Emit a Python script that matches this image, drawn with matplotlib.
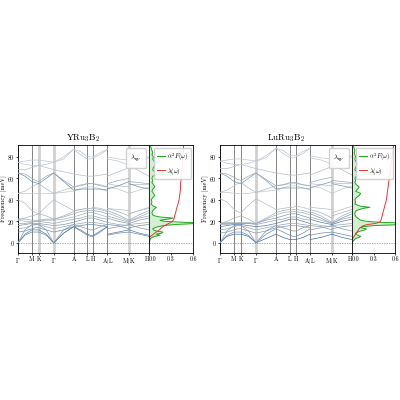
import numpy as np
import matplotlib
matplotlib.use("Agg")
import matplotlib.pyplot as plt
from matplotlib.lines import Line2D
from matplotlib.colors import LinearSegmentedColormap

plt.rcParams['font.family'] = ['cmr10']
plt.rcParams['mathtext.fontset'] = 'cm'
plt.rcParams['axes.unicode_minus'] = False
plt.rcParams['axes.formatter.use_mathtext'] = True

# ---------------- data ----------------
titles = ["YRu$_3$B$_2$", "LuRu$_3$B$_2$"]
node_labels = [r"$\Gamma$", "M", "K", r"$\Gamma$", "A", "L", "H", "A$|$L", "M$|$K", "H"]
node_pos = [0, 14, 21, 36, 56, 70, 76, 90, 112, 132]
# sample positions along path: nodes + midpoints  (Γ-M-K-Γ-A-L-H-A | L-M | K-H)
k_seg1 = [0, 7, 14, 17.5, 21, 28.5, 36, 46, 56, 63, 70, 73, 76, 83, 90]
k_seg2 = [90, 101, 112]
k_seg3 = [112, 122, 132]

bands_Y = [
    [0, 7, 10, 10, 10, 7, 0, 9, 15, 11, 7, 6, 6, 10, 15] + [7, 9, 10] + [10, 8, 6],
    [0, 8, 12, 12, 12, 8, 0, 9, 15, 12, 8, 7, 7, 11, 15] + [8, 10, 12] + [12, 9, 7],
    [0, 12, 17, 17, 17, 12, 0, 12, 17, 15, 13, 12, 12, 15, 17] + [13, 15, 17] + [17, 14, 12],
    [10, 11, 13, 14, 14, 12, 10, 12, 15, 16, 17, 17, 17, 16, 15] + [17, 16, 13] + [14, 16, 17],
    [13, 14, 16, 17, 17, 15, 13, 15, 17, 18, 19, 19, 19, 18, 17] + [19, 17, 16] + [17, 18, 19],
    [16, 17, 18, 18, 18, 17, 16, 17, 19, 21, 23, 23, 23, 21, 19] + [23, 20, 18] + [18, 21, 23],
    [18, 18, 19, 20, 20, 19, 18, 20, 22, 23, 25, 25, 25, 23, 22] + [25, 22, 19] + [20, 23, 25],
    [21, 20, 20, 20, 20, 21, 21, 22, 24, 26, 28, 28, 28, 26, 24] + [28, 24, 20] + [20, 24, 28],
    [22, 22, 21, 21, 21, 22, 22, 24, 27, 29, 30, 30, 30, 29, 27] + [30, 26, 21] + [21, 26, 30],
    [22, 23, 25, 26, 27, 25, 22, 25, 29, 31, 32, 32, 32, 31, 29] + [32, 29, 25] + [27, 30, 32],
    [40, 37, 30, 28, 27, 34, 40, 35, 30, 31, 32, 32, 33, 32, 30] + [32, 31, 30] + [27, 30, 33],
    [46, 46, 46, 46, 46, 46, 46, 47, 48, 50, 52, 52, 52, 50, 48] + [52, 50, 46] + [46, 49, 52],
    [46, 48, 52, 54, 55, 50, 46, 49, 52, 54, 55, 55, 55, 54, 52] + [55, 53, 52] + [55, 55, 55],
    [65, 62, 57, 56, 55, 60, 65, 57, 49, 50, 50, 50, 50, 50, 49] + [50, 53, 57] + [55, 52, 50],
    [65, 64, 60, 58, 57, 62, 65, 58, 52, 53, 55, 55, 55, 53, 52] + [55, 58, 60] + [57, 56, 55],
    [68, 68, 70, 71, 72, 70, 68, 66, 64, 63, 62, 62, 62, 63, 64] + [62, 66, 70] + [72, 67, 62],
    [75, 73, 72, 72, 72, 73, 75, 78, 87, 82, 78, 78, 79, 82, 87] + [78, 76, 72] + [72, 76, 79],
    [75, 76, 77, 77, 77, 76, 75, 80, 87, 85, 80, 80, 80, 84, 87] + [80, 78, 77] + [77, 78, 80],
]
strength_Y = [0.7, 0.8, 0.6, 0.7, 0.5, 0.6, 0.5, 0.4, 0.5, 0.4, 0.3, 0.2, 0.3, 0.7, 0.5, 0.3, 0.2, 0.2]

bands_Lu = [
    [0, 6, 8, 8, 8, 6, 0, 4, 8, 5, 3, 3, 3, 5, 8] + [3, 5, 8] + [8, 5, 3],
    [0, 7, 10, 10, 10, 7, 0, 8, 13, 10, 7, 6, 6, 9, 13] + [7, 9, 10] + [10, 8, 6],
    [0, 11, 16, 16, 16, 11, 0, 11, 16, 14, 12, 11, 11, 14, 16] + [12, 14, 16] + [16, 13, 11],
    [9, 10, 12, 13, 13, 11, 9, 11, 14, 15, 16, 16, 16, 15, 14] + [16, 15, 12] + [13, 15, 16],
    [12, 13, 15, 16, 16, 14, 12, 14, 16, 17, 18, 18, 18, 17, 16] + [18, 16, 15] + [16, 17, 18],
    [15, 16, 17, 17, 17, 16, 15, 16, 18, 20, 22, 22, 22, 20, 18] + [22, 19, 17] + [17, 20, 22],
    [17, 17, 18, 18, 18, 18, 17, 19, 21, 22, 24, 24, 24, 22, 21] + [24, 21, 18] + [18, 22, 24],
    [18, 18, 18, 18, 18, 18, 18, 21, 23, 25, 27, 27, 27, 25, 23] + [27, 23, 18] + [18, 23, 27],
    [18, 19, 19, 19, 19, 19, 18, 22, 26, 28, 29, 29, 29, 28, 26] + [29, 25, 19] + [19, 25, 29],
    [18, 20, 23, 24, 25, 22, 18, 23, 28, 30, 31, 31, 31, 30, 28] + [31, 28, 23] + [25, 28, 31],
    [41, 38, 31, 29, 28, 35, 41, 36, 31, 32, 33, 33, 34, 33, 31] + [33, 32, 31] + [28, 31, 34],
    [47, 47, 46, 46, 46, 46, 47, 48, 49, 51, 53, 53, 53, 51, 49] + [53, 51, 46] + [46, 50, 53],
    [47, 49, 53, 55, 56, 51, 47, 50, 53, 54, 55, 55, 55, 54, 53] + [55, 54, 53] + [56, 55, 55],
    [65, 62, 57, 56, 55, 60, 65, 58, 50, 51, 51, 51, 51, 51, 50] + [51, 54, 57] + [55, 53, 51],
    [65, 64, 61, 59, 58, 62, 65, 59, 53, 54, 56, 56, 56, 54, 53] + [56, 59, 61] + [58, 57, 56],
    [69, 69, 71, 72, 73, 71, 69, 67, 65, 64, 63, 63, 63, 64, 65] + [63, 67, 71] + [73, 68, 63],
    [76, 74, 73, 73, 73, 74, 76, 79, 88, 83, 79, 79, 80, 83, 88] + [79, 77, 73] + [73, 77, 80],
    [76, 77, 78, 78, 78, 77, 76, 81, 88, 86, 81, 81, 81, 85, 88] + [81, 79, 78] + [78, 79, 81],
]
strength_Lu = [0.9, 0.7, 0.6, 0.6, 0.5, 0.8, 0.5, 0.6, 0.4, 0.4, 0.3, 0.2, 0.3, 0.6, 0.5, 0.3, 0.2, 0.2]

a2f_freq = [0, 2, 4, 5, 6, 7, 8, 9, 10, 11, 12, 13, 14, 15, 16, 17, 18, 18.5, 19, 20, 21, 22, 23, 24,
            25, 26, 28, 30, 32, 33, 34, 36, 38, 40, 42, 44, 46, 48, 50, 52, 54, 56, 58, 60, 62, 63,
            64, 65, 66, 67, 68, 70, 72, 74, 75, 76, 78, 80, 82, 84, 86, 88, 90]
a2f_Y = [0, 0.01, 0.02, 0.04, 0.08, 0.15, 0.1, 0.17, 0.19, 0.1, 0.06, 0.05, 0.08, 0.12, 0.2, 0.35,
         0.65, 0.75, 0.5, 0.2, 0.15, 0.25, 0.33, 0.15, 0.08, 0.05, 0.04, 0.05, 0.08, 0.1, 0.06, 0.03,
         0.04, 0.03, 0.05, 0.08, 0.06, 0.04, 0.05, 0.08, 0.06, 0.04, 0.05, 0.04, 0.05, 0.1, 0.3, 0.4,
         0.15, 0.06, 0.05, 0.06, 0.08, 0.1, 0.12, 0.07, 0.05, 0.06, 0.04, 0.05, 0.04, 0.03, 0.02]
a2f_Lu = [0, 0.02, 0.05, 0.1, 0.12, 0.08, 0.06, 0.05, 0.08, 0.12, 0.18, 0.2, 0.12, 0.15, 0.3, 0.7,
          0.8, 0.7, 0.4, 0.2, 0.12, 0.1, 0.08, 0.06, 0.05, 0.04, 0.04, 0.06, 0.15, 0.25, 0.12, 0.04,
          0.05, 0.04, 0.06, 0.1, 0.12, 0.05, 0.08, 0.1, 0.06, 0.04, 0.05, 0.04, 0.06, 0.12, 0.3, 0.35,
          0.12, 0.05, 0.04, 0.05, 0.07, 0.08, 0.06, 0.05, 0.04, 0.05, 0.04, 0.03, 0.04, 0.03, 0.02]

lam_freq_Y = [5, 6, 8, 10, 12, 14, 16, 18, 19, 20, 22, 25, 30, 35, 40, 45, 50, 55, 60, 64, 66, 70,
              75, 80, 85, 90]
lam_Y = [0, 0.02, 0.06, 0.1, 0.14, 0.17, 0.21, 0.27, 0.3, 0.32, 0.34, 0.35, 0.37, 0.39, 0.41, 0.42,
         0.43, 0.43, 0.44, 0.44, 0.45, 0.45, 0.46, 0.46, 0.47, 0.47]
lam_freq_Lu = [3, 5, 8, 10, 12, 14, 16, 17, 18, 19, 20, 25, 30, 35, 40, 45, 50, 55, 60, 65, 70, 75,
               80, 85, 90]
lam_Lu = [0, 0.02, 0.05, 0.07, 0.09, 0.11, 0.16, 0.22, 0.32, 0.38, 0.40, 0.42, 0.44, 0.46, 0.48,
          0.49, 0.5, 0.51, 0.52, 0.53, 0.54, 0.55, 0.56, 0.57, 0.58]

# ---------------- plotting ----------------
fig = plt.figure(figsize=(4, 4), dpi=100)
cmap = LinearSegmentedColormap.from_list("bw", ["#d8dce0", "#9aa8b8", "#2a64a0"])

panels = [
    (18, 149, 193, titles[0], bands_Y, strength_Y, a2f_Y, lam_freq_Y, lam_Y, [2, 3, 8]),
    (220, 352, 395, titles[1], bands_Lu, strength_Lu, a2f_Lu, lam_freq_Lu, lam_Lu, [3, 8]),
]
W = 400.0
y0, y1 = 145, 253
for (xl, xm, xr, title, bands, strength, a2f, lf, lv, light) in panels:
    axb = fig.add_axes([xl / W, 1 - y1 / W, (xm - xl) / W, (y1 - y0) / W])
    axd = fig.add_axes([xm / W, 1 - y1 / W, (xr - xm) / W, (y1 - y0) / W], sharey=axb)

    n1, n2 = len(k_seg1), len(k_seg2)
    for b, s in zip(bands, strength):
        col = cmap(s)
        axb.plot(k_seg1, b[:n1], color=col, lw=0.5, zorder=3)
        axb.plot(k_seg2, b[n1:n1 + n2], color=col, lw=0.5, zorder=3)
        axb.plot(k_seg3, b[n1 + n2:], color=col, lw=0.5, zorder=3)

    for i, p in enumerate(node_pos):
        if i in light:
            axb.axvline(p, color="#d0d0d0", lw=2.0, zorder=1)
        else:
            axb.axvline(p, color="#707070", lw=0.6, zorder=2)
    axb.axhline(0, color="#888888", lw=0.5, ls=(0, (2, 1.5)), zorder=2)
    axb.set_xlim(node_pos[0], node_pos[-1])
    axb.set_ylim(-9.5, 91)
    axb.set_xticks(node_pos)
    axb.set_xticklabels(node_labels)
    axb.get_xticklabels()[-1].set_ha("right")
    axb.set_yticks([0, 20, 40, 60, 80])
    axb.set_ylabel("Frequency [meV]", fontsize=4.5, labelpad=0.5)
    axb.set_title(title, fontsize=6.5, pad=3)
    axb.tick_params(labelsize=4.3, length=1.5, width=0.5, pad=1.0)
    for sp in axb.spines.values():
        sp.set_linewidth(0.6)
    axb.legend([Line2D([], [], lw=0)], [r"$\lambda_{\mathbf{q}\nu}$"], loc="upper right",
               fontsize=5, handlelength=0, handletextpad=0, borderpad=0.6,
               framealpha=0.9, edgecolor="#cccccc", fancybox=True)

    axd.fill_betweenx(a2f_freq, 0, a2f, color="#7fd37f", alpha=0.35, lw=0)
    axd.plot(a2f, a2f_freq, color="#1faa1f", lw=0.7, label=r"$\alpha^2F(\omega)$")
    axd.plot(lv, lf, color="#ee3333", lw=0.7, label=r"$\lambda(\omega)$")
    axd.axhline(0, color="#888888", lw=0.5, ls=(0, (2, 1.5)))
    axd.set_xlim(0, 0.6)
    axd.set_xticks([0, 0.3, 0.6])
    axd.set_xticklabels(["0.0", "0.3", "0.6"])
    axd.get_xticklabels()[0].set_ha("left")
    axd.tick_params(labelsize=4.3, length=1.5, width=0.5, pad=1.0, left=False, labelleft=False)
    for sp in axd.spines.values():
        sp.set_linewidth(0.6)
    axd.legend(loc="upper right", fontsize=4.5, handlelength=1.3, handletextpad=0.4,
               borderpad=0.4, labelspacing=0.5, framealpha=0.9, edgecolor="#cccccc",
               bbox_to_anchor=(1.03, 1.0))

fig.savefig("out.png", dpi=100)
